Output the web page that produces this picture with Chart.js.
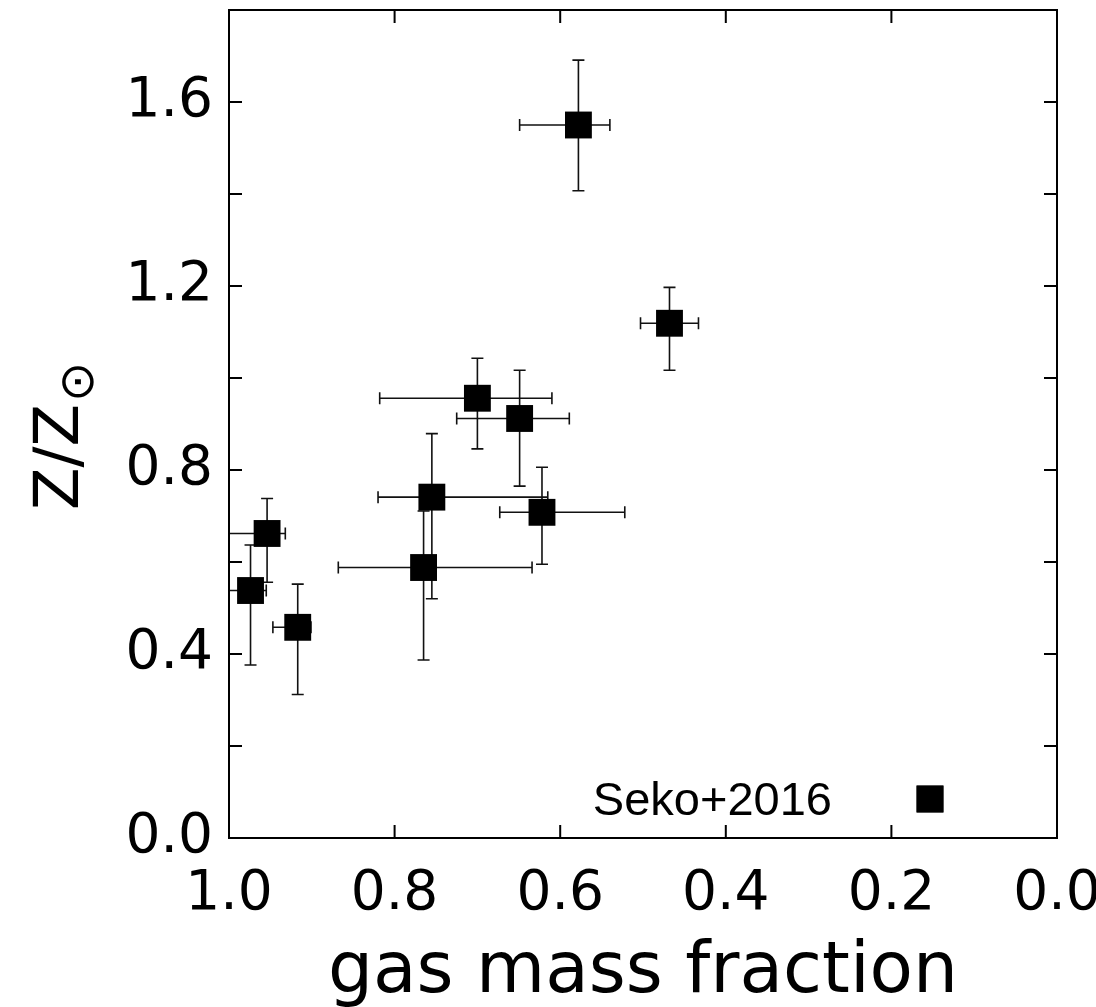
<!DOCTYPE html>
<html>
<head>
<meta charset="utf-8">
<title>Z/Z☉ vs gas mass fraction</title>
<script src="https://cdn.jsdelivr.net/npm/chart.js@4.4.1/dist/chart.umd.min.js"></script>
<style>
  html, body { margin: 0; padding: 0; background: #fff; }
  #wrap { width: 1096px; height: 1007px; position: relative; }
</style>
</head>
<body>
<div id="wrap"><canvas id="zChart"></canvas></div>
<script>
// ---- Data (Seko+2016) ----
const gasFraction   = [0.578, 0.468, 0.700, 0.649, 0.755, 0.622, 0.765, 0.954, 0.974, 0.917];
const gasFracHigh   = [0.649, 0.503, 0.818, 0.725, 0.820, 0.673, 0.868, 1.030, 1.000, 0.947];
const gasFracLow    = [0.540, 0.433, 0.610, 0.589, 0.615, 0.522, 0.634, 0.932, 0.955, 0.901];
const metallicity   = [1.550, 1.119, 0.956, 0.912, 0.741, 0.708, 0.588, 0.662, 0.538, 0.458];
const metalHigh     = [1.691, 1.197, 1.043, 1.017, 0.879, 0.806, 0.711, 0.738, 0.637, 0.552];
const metalLow      = [1.407, 1.017, 0.846, 0.765, 0.520, 0.595, 0.387, 0.556, 0.376, 0.312];

const seriesLabel = 'Seko+2016';
const xTitle = 'gas mass fraction';
const yTitleMain = 'Z/Z';
const yTitleSub = '⊙';

const FONT = "'DejaVu Sans', sans-serif";
const INK = '#000';

// ---- error bars, drawn under the markers ----
const errorBars = {
  id: 'errorBars',
  beforeDatasetsDraw(chart) {
    const { ctx, chartArea: a, scales: { x, y } } = chart;
    const cap = 6;
    ctx.save();
    ctx.beginPath();
    ctx.rect(a.left, a.top, a.right - a.left, a.bottom - a.top);
    ctx.clip();
    ctx.strokeStyle = '#111';
    ctx.lineWidth = 1.6;
    gasFraction.forEach((gx, i) => {
      const px = x.getPixelForValue(gx);
      const py = y.getPixelForValue(metallicity[i]);
      const xl = x.getPixelForValue(gasFracHigh[i]);
      const xr = x.getPixelForValue(gasFracLow[i]);
      const yt = y.getPixelForValue(metalHigh[i]);
      const yb = y.getPixelForValue(metalLow[i]);
      ctx.beginPath();
      ctx.moveTo(xl, py); ctx.lineTo(xr, py);
      ctx.moveTo(xl, py - cap); ctx.lineTo(xl, py + cap);
      ctx.moveTo(xr, py - cap); ctx.lineTo(xr, py + cap);
      ctx.moveTo(px, yt); ctx.lineTo(px, yb);
      ctx.moveTo(px - cap, yt); ctx.lineTo(px + cap, yt);
      ctx.moveTo(px - cap, yb); ctx.lineTo(px + cap, yb);
      ctx.stroke();
    });
    ctx.restore();
  }
};

// ---- box frame with inward ticks on all four sides ----
const frameTicks = {
  id: 'frameTicks',
  afterDatasetsDraw(chart) {
    const { ctx, chartArea: a, scales: { x, y } } = chart;
    const len = 13;
    ctx.save();
    ctx.strokeStyle = INK;
    ctx.lineWidth = 2;
    ctx.strokeRect(a.left, a.top, a.right - a.left, a.bottom - a.top);
    ctx.beginPath();
    x.ticks.forEach(t => {
      const p = x.getPixelForValue(t.value);
      if (p <= a.left + 1 || p >= a.right - 1) return;
      ctx.moveTo(p, a.bottom); ctx.lineTo(p, a.bottom - len);
      ctx.moveTo(p, a.top);    ctx.lineTo(p, a.top + len);
    });
    y.ticks.forEach(t => {
      const p = y.getPixelForValue(t.value);
      if (p <= a.top + 1 || p >= a.bottom - 1) return;
      ctx.moveTo(a.left, p);  ctx.lineTo(a.left + len, p);
      ctx.moveTo(a.right, p); ctx.lineTo(a.right - len, p);
    });
    ctx.stroke();
    ctx.restore();
  }
};

// ---- y title with subscript sun symbol, and in-plot legend ----
const labels = {
  id: 'labels',
  afterDraw(chart) {
    const { ctx, chartArea: a } = chart;
    ctx.save();
    ctx.fillStyle = INK;

    // y title (rotated)
    ctx.translate(78, (a.top + a.bottom) / 2 + 33);
    ctx.rotate(-Math.PI / 2);
    ctx.font = `62px ${FONT}`;
    ctx.textBaseline = 'alphabetic';
    ctx.textAlign = 'center';
    const w = ctx.measureText(yTitleMain).width;
    ctx.fillText(yTitleMain, 0, 0);
    ctx.font = `48px ${FONT}`;
    ctx.textAlign = 'left';
    ctx.fillText(yTitleSub, w / 2 + 2, 15);
    ctx.setTransform(1, 0, 0, 1, 0, 0);

    // legend: label then marker
    const ds = chart.data.datasets[0];
    ctx.font = "47px 'Liberation Sans', Arial, sans-serif";
    ctx.textAlign = 'right';
    ctx.textBaseline = 'alphabetic';
    ctx.fillText(ds.label, a.right - 225, a.bottom - 23);
    const mx = a.right - 127, my = a.bottom - 39;
    if (Chart.helpers && Chart.helpers.drawPoint) {
      Chart.helpers.drawPoint(ctx, { pointStyle: ds.pointStyle, radius: ds.pointRadius, borderWidth: 0 }, mx, my);
      ctx.fill();
    }
    ctx.restore();
  }
};

// drop the label overhang padding so the plot box stays where the figure has it
function noOverhang(s) {
  s.paddingLeft = 0; s.paddingRight = 0;
  s.paddingTop = 0;  s.paddingBottom = 0;
}

function init() {
  const ctx = document.getElementById('zChart');
  new Chart(ctx, {
    type: 'scatter',
    data: {
      datasets: [{
        label: seriesLabel,
        data: gasFraction.map((g, i) => ({ x: g, y: metallicity[i] })),
        pointStyle: 'rect',
        pointRadius: 19,
        pointHoverRadius: 19,
        pointBorderWidth: 0,
        backgroundColor: INK,
        borderColor: INK
      }]
    },
    options: {
      responsive: true,
      maintainAspectRatio: false,
      animation: false,
      layout: { autoPadding: false, padding: { top: 10, right: 39, left: 0, bottom: 0 } },
      plugins: { legend: { display: false }, tooltip: { enabled: false } },
      scales: {
        x: {
          type: 'linear',
          min: 0, max: 1, reverse: true,
          grid: { display: false, drawTicks: false },
          border: { display: false },
          ticks: {
            stepSize: 0.2,
            padding: 24,
            color: INK,
            font: { size: 55, family: FONT },
            callback: v => v.toFixed(1)
          },
          title: {
            display: true,
            text: xTitle,
            color: INK,
            padding: 0,
            font: { size: 71, family: FONT, lineHeight: 0.95 }
          },
          afterFit: s => { s.height = 169; noOverhang(s); }
        },
        y: {
          type: 'linear',
          min: 0, max: 1.8,
          grid: { display: false, drawTicks: false },
          border: { display: false },
          ticks: {
            stepSize: 0.2,
            padding: 16,
            color: INK,
            font: { size: 55, family: FONT },
            callback: v => (Math.round(v * 10) % 4 === 0 ? v.toFixed(1) : '')
          },
          afterFit: s => { s.width = 229; noOverhang(s); }
        }
      }
    },
    plugins: [errorBars, frameTicks, labels]
  });
}

if (document.readyState === 'loading') {
  document.addEventListener('DOMContentLoaded', init);
} else {
  init();
}
</script>
</body>
</html>
